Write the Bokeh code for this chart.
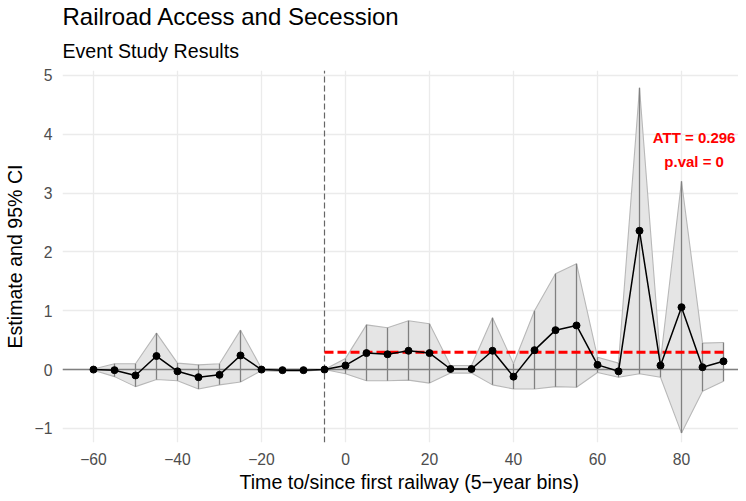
from bokeh.plotting import figure
from bokeh.models import Range1d, FixedTicker, Title, Label
from bokeh.embed import file_html
from bokeh.resources import INLINE

# ---- data ----
periods = [-60, -55, -50, -45, -40, -35, -30, -25, -20, -15, -10, -5,
           0, 5, 10, 15, 20, 25, 30, 35, 40, 45, 50, 55, 60, 65, 70, 75, 80, 85, 90]
estimate = [0.00, -0.01, -0.10, 0.23, -0.03, -0.13, -0.09, 0.24, 0.00, -0.01, -0.01, 0.00,
            0.07, 0.28, 0.26, 0.32, 0.28, 0.01, 0.01, 0.32, -0.12, 0.33, 0.67, 0.75,
            0.08, -0.03, 2.36, 0.07, 1.06, 0.04, 0.14]
ci_upper = [0.01, 0.10, 0.10, 0.62, 0.11, 0.08, 0.10, 0.67, 0.02, 0.01, 0.01, 0.00,
            0.19, 0.76, 0.71, 0.83, 0.78, 0.07, 0.07, 0.88, 0.10, 1.00, 1.63, 1.80,
            0.21, 0.11, 4.79, 0.15, 3.20, 0.45, 0.46]
ci_lower = [-0.01, -0.12, -0.29, -0.17, -0.19, -0.33, -0.26, -0.21, -0.02, -0.03, -0.03, 0.00,
            -0.07, -0.19, -0.19, -0.18, -0.23, -0.06, -0.06, -0.26, -0.33, -0.33, -0.29, -0.30,
            -0.05, -0.13, -0.07, -0.13, -1.08, -0.37, -0.20]
att_value = 0.296
p_value = 0
att_start = -5
att_end = 90
ref_period = -5
x_ticks = [-60, -40, -20, 0, 20, 40, 60, 80]
y_ticks = [-1, 0, 1, 2, 3, 4, 5]

FONT = "Liberation Sans"
X0, X1 = -67.38, 93.57
Y0, Y1 = -1.24, 5.085

p = figure(width=738, height=493, output_backend="svg", toolbar_location=None,
           title=None,
           x_range=Range1d(X0, X1), y_range=Range1d(Y0, Y1),
           min_border=0,
           min_border_left=54, min_border_right=0, min_border_top=62, min_border_bottom=43)
p.outline_line_color = None
p.background_fill_color = "white"

sub = Title(text="Event Study Results", text_font=FONT, text_font_size="19.6px",
            text_font_style="normal", text_color="black", align="left", standoff=17)
main = Title(text="Railroad Access and Secession", text_font=FONT, text_font_size="24px",
             text_font_style="normal", text_color="black", align="left", standoff=0)
p.add_layout(sub, "above")
p.add_layout(main, "above")

# axes
for ax in (p.xaxis[0], p.yaxis[0]):
    ax.axis_line_color = None
    ax.major_tick_line_color = None
    ax.minor_tick_line_color = None
    ax.major_tick_in = 0
    ax.major_tick_out = 0
    ax.major_label_text_font = FONT
    ax.major_label_text_font_size = "15.7px"
    ax.major_label_text_color = "#4d4d4d"
    ax.axis_label_text_font = FONT
    ax.axis_label_text_font_size = "19.6px"
    ax.axis_label_text_font_style = "normal"
    ax.axis_label_text_color = "black"

p.xaxis.ticker = FixedTicker(ticks=x_ticks)
p.yaxis.ticker = FixedTicker(ticks=y_ticks)
p.xaxis.major_label_overrides = {t: (str(t).replace("-", "\u2212")) for t in x_ticks}
p.yaxis.major_label_overrides = {t: (str(t).replace("-", "\u2212")) for t in y_ticks}
p.yaxis.axis_label = "Estimate and 95% CI"
p.xaxis.major_label_standoff = 10
p.yaxis.major_label_standoff = 10
p.yaxis.axis_label_standoff = 6

xtitle = Title(text="Time to/since first railway (5\u2212year bins)", text_font=FONT,
               text_font_size="19.6px", text_font_style="normal", text_color="black",
               align="left", offset=177, standoff=2)
p.add_layout(xtitle, "below")

p.xgrid.ticker = FixedTicker(ticks=x_ticks)
p.ygrid.ticker = FixedTicker(ticks=y_ticks)
for g in (p.xgrid[0], p.ygrid[0]):
    g.grid_line_color = "#ebebeb"
    g.grid_line_width = 1.3

# CI band
p.varea(x=periods, y1=ci_lower, y2=ci_upper, fill_color="#e5e5e5")
p.line(periods, ci_upper, line_color="#b8b8b8", line_width=1.1)
p.line(periods, ci_lower, line_color="#b8b8b8", line_width=1.1)
p.segment(x0=periods, y0=ci_lower, x1=periods, y1=ci_upper, line_color="#808080", line_width=1.3)

# zero line and reference period line
p.line([X0, X1], [0, 0], line_color="#7f7f7f", line_width=1.5)
p.line([ref_period, ref_period], [Y0, Y1], line_color="#666666", line_width=1.2, line_dash="6 3")

# ATT line
p.line([att_start, att_end], [att_value, att_value], line_color="red", line_width=3, line_dash="9 4")

# estimates
p.line(periods, estimate, line_color="black", line_width=1.5)
p.scatter(periods, estimate, size=7, fill_color="black", line_color="black")

for txt, yy in ((f"ATT = {att_value}", 3.95), (f"p.val = {p_value}", 3.54)):
    p.add_layout(Label(x=83.0, y=yy, text=txt, text_align="center", text_baseline="middle",
                       text_font=FONT, text_font_style="bold", text_font_size="15px",
                       text_color="red"))

open("out.html", "w").write(file_html(p, INLINE))
